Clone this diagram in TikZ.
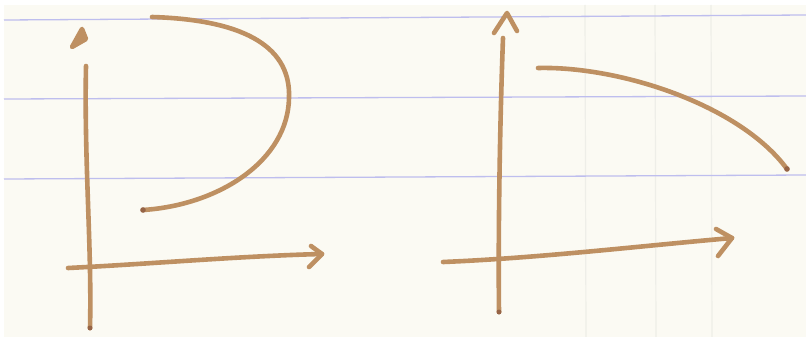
\documentclass[tikz,border=0pt]{standalone}
\usepackage{xcolor}
\usepackage{tikz}
\usetikzlibrary{calc}

\definecolor{paper}{RGB}{251,250,243}
\definecolor{inkbrown}{RGB}{190,144,98}
\definecolor{inkdark}{RGB}{150,100,70}
\definecolor{ruleblue}{RGB}{190,190,238}
\definecolor{rulegray}{RGB}{238,238,232}

\begin{document}
\begin{tikzpicture}[
    x=1pt, y=-1pt,
    pen/.style={draw=inkbrown, line width=4.6pt, line cap=round, line join=round},
    tipdot/.style={fill=inkdark},
    ruling/.style={draw=ruleblue, line width=1.3pt},
    margin/.style={draw=rulegray, line width=1.2pt},
]
\useasboundingbox (0,0) rectangle (806,337);
\fill[white] (0,0) rectangle (806,337);
\fill[paper] (4,5) rectangle (806,337);

% ruled paper
\draw[margin] (585,5) -- (586,337);
\draw[margin] (655,5) -- (656,337);
\draw[margin] (711,5) -- (712,337);
\draw[ruling] (4,20) -- (806,15);
\draw[ruling] (4,99) -- (806,96);
\draw[ruling] (4,179) -- (806,175);

% left sketch: axes
\coordinate (lytop) at (86,66);
\coordinate (lybot) at (90,328);
\coordinate (lxleft) at (68,268);
\coordinate (lxright) at (322,254);
\draw[pen] (lytop) .. controls (84,160) and (92,250) .. (lybot);
\draw[pen] (72,47) -- (82,29) -- (86,39) -- cycle;
\fill[inkbrown] (72,47) -- (82,29) -- (86,39) -- cycle;
\draw[pen] (lxleft) .. controls (150,264) and (240,256) .. (lxright);
\draw[pen] (311,246) -- (lxright) -- (309,267);
\fill[tipdot] (lybot) circle (2.5pt);

% left sketch: D curve
\coordinate (dstart) at (152,17);
\coordinate (dmid) at (289,98);
\coordinate (dend) at (143,210);
\draw[pen] (dstart) .. controls (250,20) and (291,50) .. (dmid)
  .. controls (288,160) and (220,205) .. (dend);
\fill[tipdot] (dend) circle (2.8pt);

% right sketch: axes
\coordinate (rytop) at (503,38);
\coordinate (rybot) at (499,312);
\coordinate (rxleft) at (443,262);
\coordinate (rxright) at (732,238);
\draw[pen] (rytop) .. controls (500,120) and (498,230) .. (rybot);
\draw[pen] (494,33) -- (507,13) -- (517,31);
\draw[pen] (rxleft) .. controls (540,258) and (640,246) .. (rxright);
\draw[pen] (716,229) -- (rxright) -- (718,256);
\fill[tipdot] (rybot) circle (2.5pt);

% right sketch: falling curve
\coordinate (cstart) at (538,68);
\coordinate (cend) at (787,169);
\draw[pen] (cstart) .. controls (620,66) and (740,105) .. (cend);
\fill[tipdot] (cend) circle (2.8pt);
\end{tikzpicture}
\end{document}
